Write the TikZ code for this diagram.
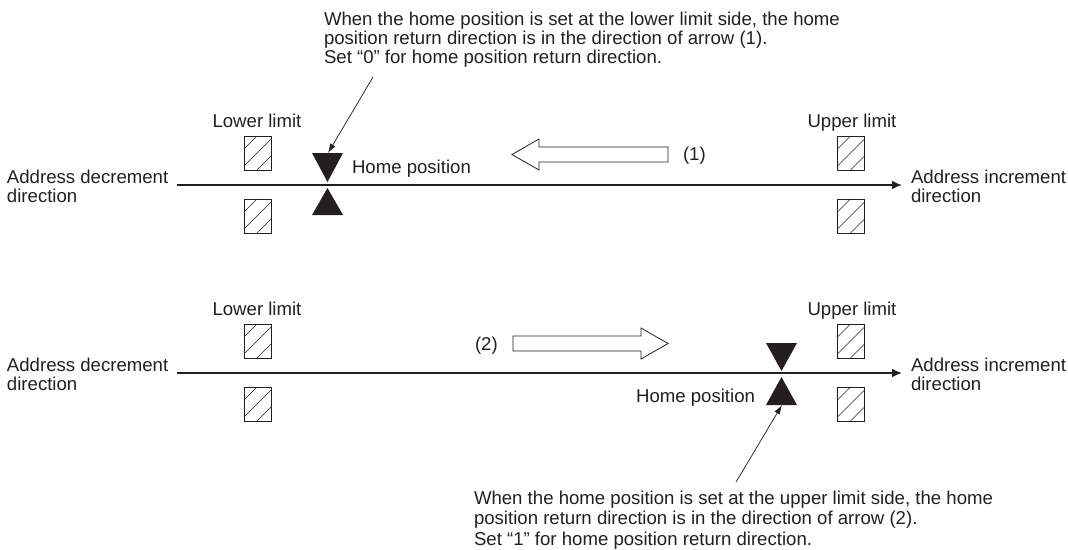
\documentclass[tikz,border=0pt]{standalone}
\usepackage{fontspec}
\setmainfont{Liberation Sans}
\usetikzlibrary{arrows.meta}
\definecolor{ink}{RGB}{35,31,32}
\newcommand{\lbfont}{\fontsize{13.95}{14.6}\selectfont}
\newcommand{\threelines}[4][14.6pt]{\vtop{\baselineskip=#1\lineskiplimit=-10pt\hbox{#2}\hbox{#3}\hbox{#4}}}
\newcommand{\twolines}[2]{\vtop{\baselineskip=14.4pt\lineskiplimit=-10pt\hbox{#1}\hbox{#2}}}
\tikzset{
  lbl/.style={inner sep=0pt, outer sep=0pt, font=\lbfont, text=ink},
  hatchbox/.style={draw=ink, line width=0.6pt, minimum width=20.25pt, minimum height=25.5pt, inner sep=0pt, outer sep=0pt},
  hatchline/.style={draw=ink, line width=0.45pt},
  axis/.style={draw=ink, line width=1pt, -{Latex[length=7.5pt,width=6.5pt]}},
  marker/.style={fill=ink, draw=none},
  hollow/.style={draw=ink, line width=0.6pt, fill=white, line join=miter},
  pointer/.style={draw=ink, line width=0.55pt, -{Latex[length=7pt,width=4.5pt]}}
}
\newcommand{\hatchin}[1]{%
  \draw[hatchline] ([shift={(0,13)}]#1.north west) -- ([shift={(13,0)}]#1.north west)
    ([shift={(0,30)}]#1.north west) -- ([shift={(27,3)}]#1.north west)
    ([shift={(13,34)}]#1.north west) -- ([shift={(27,20)}]#1.north west);}
\begin{document}
\begin{tikzpicture}[x=0.75pt, y=-0.75pt]
\useasboundingbox (0,0) rectangle (1068,550);

% ===== Top diagram =====
\node[lbl, anchor=base west] (note1) at (324,25) {\threelines{When the home position is set at the lower limit side, the home}{position return direction is in the direction of arrow (1).}{Set “0” for home position return direction.}};
\node[lbl, anchor=base] (ll1) at (257,127) {Lower limit};
\node[lbl, anchor=base] (ul1) at (852,127) {Upper limit};
\node[hatchbox] (llb1a) at (257.5,153) {};
\node[hatchbox] (llb1b) at (257.5,216) {};
\node[hatchbox] (ulb1a) at (851,153) {};
\node[hatchbox] (ulb1b) at (851,216) {};
\hatchin{llb1a}\hatchin{llb1b}\hatchin{ulb1a}\hatchin{ulb1b}
\node[lbl, anchor=base west] (dec1) at (7,183) {\twolines{Address decrement}{direction}};
\node[lbl, anchor=base west] (inc1) at (911,183) {\twolines{Address increment}{direction}};
\coordinate (s1) at (177,185);
\coordinate (e1) at (902,185);
\draw[axis] (s1) -- (e1);
\fill[marker] (312,153) -- (343,153) -- (327.5,182) -- cycle;
\fill[marker] (312,215) -- (343,215) -- (327.5,188) -- cycle;
\coordinate (hp1) at (328,153);
\node[lbl, anchor=base west] (hpl1) at (352,173) {Home position};
\coordinate (p1) at (373,77);
\draw[pointer] (p1) -- (hp1);
\draw[hollow] (512,154.5) -- (539,139) -- (539,147) -- (668,147) -- (668,162) -- (539,162) -- (539,170) -- cycle;
\node[lbl, anchor=base west] (a1) at (683,160) {(1)};

% ===== Bottom diagram =====
\node[lbl, anchor=base] (ll2) at (257,315) {Lower limit};
\node[lbl, anchor=base] (ul2) at (852,315) {Upper limit};
\node[hatchbox] (llb2a) at (257.5,341) {};
\node[hatchbox] (llb2b) at (257.5,404) {};
\node[hatchbox] (ulb2a) at (851,341) {};
\node[hatchbox] (ulb2b) at (851,404) {};
\hatchin{llb2a}\hatchin{llb2b}\hatchin{ulb2a}\hatchin{ulb2b}
\node[lbl, anchor=base west] (dec2) at (7,371) {\twolines{Address decrement}{direction}};
\node[lbl, anchor=base west] (inc2) at (911,371) {\twolines{Address increment}{direction}};
\coordinate (s2) at (177,373);
\coordinate (e2) at (902,373);
\draw[axis] (s2) -- (e2);
\fill[marker] (766,343) -- (797,343) -- (781.5,371) -- cycle;
\fill[marker] (766,405) -- (797,405) -- (781.5,377) -- cycle;
\coordinate (hp2) at (782,405);
\node[lbl, anchor=base east] (hpl2) at (755,402) {Home position};
\draw[hollow] (513,336) -- (641,336) -- (641,328) -- (668,343.5) -- (641,359) -- (641,351) -- (513,351) -- cycle;
\node[lbl, anchor=base west] (a2) at (475,350) {(2)};
\node[lbl, anchor=base west] (note2) at (474,504.5) {\threelines[15.2pt]{When the home position is set at the upper limit side, the home}{position return direction is in the direction of arrow (2).}{Set “1” for home position return direction.}};
\coordinate (p2) at (736,482);
\draw[pointer] (p2) -- (hp2);
\end{tikzpicture}
\end{document}
